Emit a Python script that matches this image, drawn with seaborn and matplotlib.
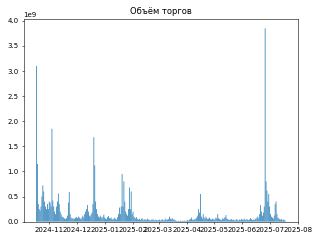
import numpy as np
import pandas as pd
import matplotlib
matplotlib.use("Agg")
import matplotlib.pyplot as plt
import seaborn as sns

start_date = "2024-10-18"
end_date = "2025-07-18"
title = "Объём торгов"

# daily trading volume, millions
volume_mln = [
    3100, 1150, 350, 250, 220, 300, 500,
    720, 600, 400, 300, 250, 350, 250,
    400, 380, 300, 1850, 420, 300, 200,
    150, 300, 400, 560, 350, 200, 150,
    100, 90, 80, 60, 50, 70, 120,
    380, 590, 150, 80, 60, 70, 50,
    60, 80, 90, 70, 100, 80, 60,
    50, 90, 120, 80, 150, 200, 250,
    330, 200, 120, 100, 150, 180, 350,
    1680, 1120, 400, 250, 150, 100, 80,
    120, 90, 60, 100, 140, 80, 60,
    50, 90, 110, 70, 60, 80, 50,
    40, 60, 80, 50, 40, 90, 150,
    280, 150, 300, 950, 300, 800, 400,
    200, 150, 120, 250, 680, 250, 600,
    150, 200, 100, 80, 60, 90, 50,
    40, 60, 30, 50, 70, 40, 30,
    50, 40, 30, 60, 40, 30, 20,
    40, 30, 50, 30, 20, 40, 30,
    20, 30, 40, 20, 30, 50, 30,
    20, 40, 60, 30, 40, 50, 100,
    60, 40, 70, 50, 30, 40, 20,
    15, 10, 15, 10, 20, 10, 15,
    10, 20, 15, 10, 20, 30, 20,
    40, 50, 80, 40, 30, 50, 40,
    60, 80, 120, 250, 180, 550, 100,
    60, 150, 80, 60, 100, 70, 50,
    60, 80, 50, 40, 60, 50, 30,
    50, 80, 60, 150, 70, 50, 40,
    30, 60, 50, 70, 90, 130, 60,
    50, 40, 30, 40, 50, 30, 40,
    30, 20, 40, 50, 30, 20, 40,
    30, 50, 40, 30, 60, 40, 30,
    50, 40, 30, 40, 70, 50, 30,
    40, 30, 60, 50, 80, 100, 60,
    150, 330, 200, 120, 180, 300, 3850,
    800, 620, 400, 550, 300, 150, 100,
    80, 60, 120, 350, 400, 150, 80,
    60, 50, 40, 50, 30, 40, 30, 20,
]

dates = pd.date_range(start_date, end_date, freq="D")
df = pd.DataFrame({"date": dates, "volume": np.array(volume_mln, dtype=float) * 1e6})

fig, ax = plt.subplots(figsize=(6.4, 4.8), dpi=50)
sns.histplot(data=df, x="date", weights="volume", discrete=True, shrink=0.8,
             color="#1f77b4", alpha=1, linewidth=0, snap=False, ax=ax)
ax.set_xlabel("")
ax.set_ylabel("")
ax.set_title(title)
plt.tight_layout()
fig.savefig("out.png", dpi=50)
